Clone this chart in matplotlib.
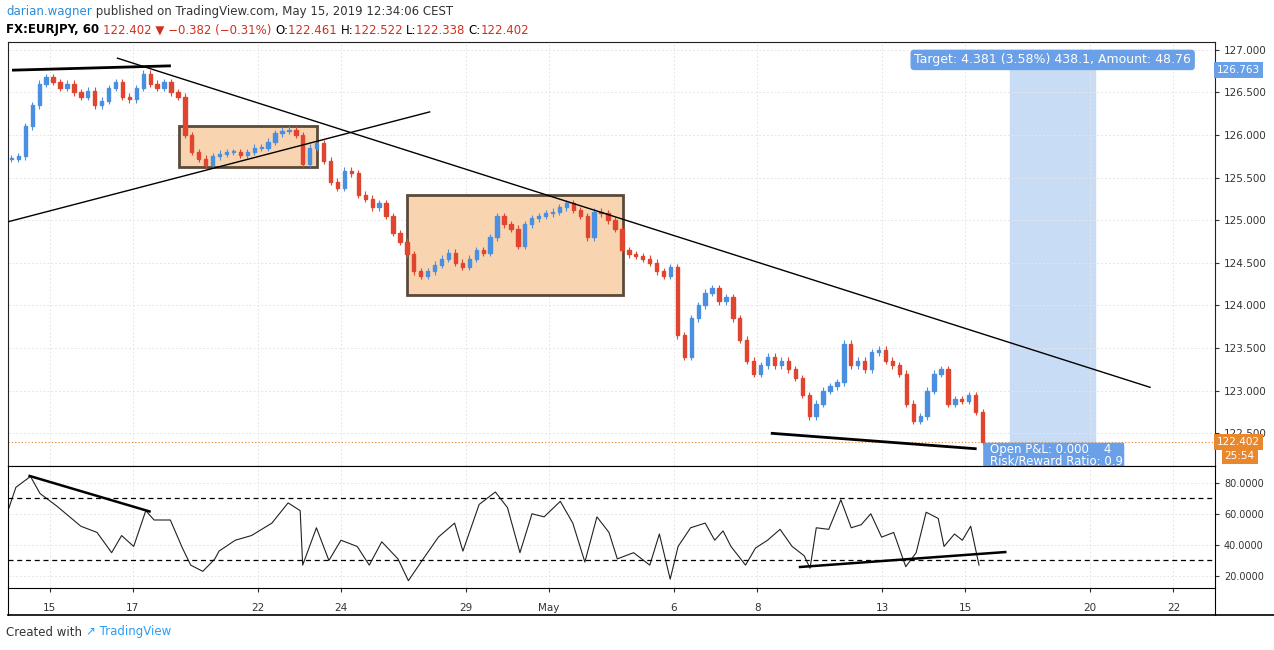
import matplotlib
matplotlib.use("Agg")
import matplotlib.pyplot as plt
from matplotlib.patches import Rectangle, FancyBboxPatch

# ---- data (trading-day index: Apr 15 = 0) ----
day_index = list(range(-1, 23))
closes_4h = [
    [125.72, 125.75, 126.10, 126.35, 126.60, 126.68],
    [126.62, 126.55, 126.60, 126.50, 126.45, 126.52],
    [126.35, 126.40, 126.55, 126.62, 126.45, 126.42],
    [126.55, 126.72, 126.60, 126.55, 126.62, 126.50],
    [126.45, 126.00, 125.80, 125.72, 125.65, 125.75],
    [125.78, 125.80, 125.80, 125.77, 125.80, 125.85],
    [125.85, 125.92, 126.02, 126.05, 126.06, 126.00],
    [125.66, 125.85, 125.90, 125.70, 125.45, 125.38],
    [125.58, 125.55, 125.30, 125.25, 125.15, 125.20],
    [125.05, 124.85, 124.75, 124.60, 124.40, 124.35],
    [124.40, 124.48, 124.55, 124.62, 124.50, 124.45],
    [124.55, 124.65, 124.62, 124.80, 125.05, 124.95],
    [124.90, 124.70, 124.95, 125.02, 125.05, 125.08],
    [125.10, 125.15, 125.20, 125.12, 125.05, 124.80],
    [125.10, 125.08, 125.00, 124.90, 124.65, 124.60],
    [124.58, 124.55, 124.50, 124.40, 124.35, 124.45],
    [123.65, 123.40, 123.85, 124.00, 124.15, 124.20],
    [124.05, 124.10, 123.85, 123.60, 123.35, 123.20],
    [123.30, 123.40, 123.30, 123.35, 123.25, 123.15],
    [122.95, 122.70, 122.85, 123.00, 123.05, 123.10],
    [123.55, 123.30, 123.35, 123.25, 123.45, 123.48],
    [123.35, 123.30, 123.20, 122.85, 122.65, 122.70],
    [123.00, 123.20, 123.25, 122.85, 122.90, 122.88],
    [122.95, 122.75, 122.402],
]
rsi_day = [-1.0, -0.81, -0.46, -0.23, 0.17, 0.75, 1.14, 1.49, 1.73, 2.02, 2.31, 2.51, 2.90, 3.19, 3.39, 3.68,
           3.97, 4.07, 4.46, 4.85, 5.34, 5.73, 6.02, 6.08, 6.41, 6.71, 7.0, 7.39, 7.68, 7.98, 8.37, 8.62,
           8.95, 9.34, 9.73, 9.93, 10.32, 10.71, 11.0, 11.3, 11.59, 11.88, 12.27, 12.57, 12.86, 13.15, 13.44,
           13.64, 14.03, 14.42, 14.65, 14.91, 15.1, 15.4, 15.75, 15.98, 16.18, 16.37, 16.72, 16.96, 17.25,
           17.55, 17.84, 18.13, 18.27, 18.42, 18.72, 19.01, 19.26, 19.5, 19.73, 19.99, 20.28, 20.57, 20.82,
           21.06, 21.35, 21.49, 21.74, 21.93, 22.13, 22.33]
rsi_val = [62, 77, 84, 73, 65, 52, 48, 35, 46, 39, 62, 56, 56, 38, 27, 23,
           31, 36, 43, 46, 54, 67, 62, 27, 51, 30, 43, 39, 27, 42, 31, 17,
           30, 45, 54, 36, 66, 74, 64, 35, 60, 58, 68, 54, 29, 58, 48,
           31, 35, 27, 47, 18, 39, 51, 54, 43, 49, 39, 27, 38, 43,
           50, 39, 33, 25, 51, 50, 69, 51, 53, 60, 45, 48, 26, 35,
           61, 57, 39, 47, 43, 52, 27]
tick_days = [0, 2, 5, 7, 10, 12, 15, 17, 20, 22, 25, 27]
tick_labels = ["15", "17", "22", "24", "29", "May", "6", "8", "13", "15", "20", "22"]
price_ticks = [122.5, 123.0, 123.5, 124.0, 124.5, 125.0, 125.5, 126.0, 126.5, 127.0]
rsi_ticks = [20, 40, 60, 80]
trend_lines = [((-0.87, 126.76), (2.88, 126.81), 2.0),
               ((1.63, 126.90), (26.44, 123.04), 1.0),
               ((-1.01, 124.98), (9.13, 126.27), 1.0),
               ((17.36, 122.50), (22.24, 122.32), 2.0)]
boxes = [(3.10, 6.42, 125.62, 126.10), (8.58, 13.77, 124.12, 125.29)]
rsi_lines = [((-0.48, 84.3), (2.4, 61.5)), ((18.03, 25.8), (22.96, 35.4))]
last_price = 122.402
target_price = 126.763

W, H = 1274, 650
fig = plt.figure(figsize=(12.74, 6.5), dpi=100)
def fx(px): return px / W
def fy(py): return 1 - py / H

UP, DN = "#4a8fe0", "#e0452f"
ax = fig.add_axes([fx(8), fy(466), fx(1215 - 8), (466 - 42) / H])
ax.set_xlim(-1.0, 28.0)
ax.set_ylim(122.117, 127.09)

prev = closes_4h[0][0]
for d, cl in zip(day_index, closes_4h):
    for k, c in enumerate(cl):
        t = d + k / 6 + 1 / 12
        o = prev
        col = UP if c >= o else DN
        ax.vlines(t, min(o, c) - 0.04, max(o, c) + 0.04, color=col, lw=0.8, zorder=3)
        ax.add_patch(Rectangle((t - 0.04, min(o, c)), 0.08, max(abs(c - o), 0.008), color=col, zorder=3))
        prev = c

for (x0, x1, y0, y1) in boxes:
    ax.add_patch(Rectangle((x0, y0), x1 - x0, y1 - y0, facecolor="#f8d4b0", edgecolor="#5a4a3a", lw=2, zorder=2))
for (a, b, lw) in trend_lines:
    ax.plot([a[0], b[0]], [a[1], b[1]], color="black", lw=lw, zorder=4)

ax.add_patch(Rectangle((23.08, 122.117), 2.04, 126.763 - 122.117 + 0.2, color="#c9dcf5", zorder=1))
ax.axhline(last_price, color="#e8872c", lw=0.8, ls=(0, (1, 2)), zorder=2)
ax.text(24.1, 126.88, "Target: 4.381 (3.58%) 438.1, Amount: 48.76", color="white", fontsize=9,
        ha="center", va="center", bbox=dict(boxstyle="round,pad=0.3", fc="#6aa0e8", ec="none"), zorder=6)
ax.add_patch(FancyBboxPatch((22.45, 122.13), 3.35, 0.24, boxstyle="round,pad=0.02", fc="#6aa0e8", ec="none", zorder=5))
ax.text(22.6, 122.31, "Open P&L: 0.000    4   11  5 2 2", color="white", fontsize=8.5, va="center", zorder=6)
ax.text(22.6, 122.18, "Risk/Reward Ratio: 0.9", color="white", fontsize=8.5, va="center", zorder=6)

ax.set_yticks(price_ticks)
ax.set_yticklabels([f"{p:.3f}" for p in price_ticks])
ax.yaxis.tick_right()
ax.tick_params(axis="y", labelsize=7.5, length=3, colors="#333333")
ax.set_xticks(tick_days)
ax.tick_params(axis="x", length=0, labelbottom=False)
ax.grid(True, color="#e6e6e6", ls=(0, (2, 2)), lw=0.7)
for s in ax.spines.values():
    s.set_color("#222222")
ax.text(1.0015, (last_price - 122.117) / (127.09 - 122.117), "122.402", transform=ax.transAxes,
        fontsize=7.5, color="white", va="center", bbox=dict(fc="#e8872c", ec="none", pad=2), zorder=7)
ax.text(1.008, (122.23 - 122.117) / (127.09 - 122.117), "25:54", transform=ax.transAxes,
        fontsize=7.5, color="white", va="center", bbox=dict(fc="#e8872c", ec="none", pad=2))
ax.text(1.0015, (target_price - 122.117) / (127.09 - 122.117), "126.763", transform=ax.transAxes,
        fontsize=7.5, color="white", va="center", bbox=dict(fc="#6aa0e8", ec="none", pad=2))

ax2 = fig.add_axes([fx(8), fy(588), fx(1215 - 8), (588 - 466) / H])
ax2.set_xlim(-1.0, 28.0)
ax2.set_ylim(12.3, 90.7)
ax2.plot(rsi_day, rsi_val, color="#222222", lw=0.8)
ax2.axhline(70, color="black", ls=(0, (4, 3)), lw=0.9)
ax2.axhline(30, color="black", ls=(0, (4, 3)), lw=0.9)
for a, b in rsi_lines:
    ax2.plot([a[0], b[0]], [a[1], b[1]], color="black", lw=1.8)
ax2.set_yticks(rsi_ticks)
ax2.set_yticklabels([f"{v:.4f}" for v in rsi_ticks])
ax2.yaxis.tick_right()
ax2.tick_params(axis="y", labelsize=7, length=3, colors="#333333")
ax2.set_xticks(tick_days)
ax2.set_xticklabels(tick_labels)
ax2.tick_params(axis="x", labelsize=7.5, length=3, pad=8, colors="#333333")
ax2.grid(True, color="#e6e6e6", ls=(0, (2, 2)), lw=0.7)

fig.add_artist(plt.Line2D([fx(8), fx(1274)], [fy(615), fy(615)], color="black", lw=1.2))
fig.add_artist(plt.Line2D([fx(1215), fx(1215)], [fy(615), fy(588)], color="black", lw=0.8))
fig.add_artist(plt.Line2D([fx(8), fx(8)], [fy(615), fy(588)], color="black", lw=0.8))

def chain(x, y, parts, fs=8.5):
    prev_t = None
    for txt, col, wt in parts:
        if prev_t is None:
            prev_t = fig.text(fx(x), fy(y), txt, color=col, fontsize=fs, va="center", weight=wt)
        else:
            prev_t = fig.text(0, 0, txt, color=col, fontsize=fs, va="center", weight=wt,
                              transform=matplotlib.transforms.offset_copy(
                                  fig.transFigure, fig=fig, x=0, y=0))
            prev_t = plt.annotate(txt, xy=(1, 0.5), xycoords=prev_chain[-1], xytext=(0, 0),
                                  textcoords="offset points", va="center", color=col, fontsize=fs, weight=wt) if False else prev_t
        prev_chain.append(prev_t)

# header rows using annotate chaining
def header(x, y, parts, fs=8.5):
    t = fig.text(fx(x), fy(y), parts[0][0], color=parts[0][1], fontsize=fs, va="center", weight=parts[0][2])
    for txt, col, wt in parts[1:]:
        t = fig.text(0, 0, "", fontsize=fs)  # placeholder removed below
        t.remove()
        t = last.annotate(txt, xy=(1, 0.5), xycoords=last_ref[0], xytext=(0, 0), textcoords="offset points",
                          va="center", color=col, fontsize=fs, weight=wt) if False else None
    return

def header2(x, y, parts, fs=8.5):
    ref = fig.text(fx(x), fy(y), parts[0][0], color=parts[0][1], fontsize=fs, va="center", weight=parts[0][2])
    for txt, col, wt in parts[1:]:
        ref = fig.add_artist(matplotlib.text.Annotation(txt, xy=(1, 0.5), xycoords=ref, xytext=(0, 0),
                              textcoords="offset points", va="center", ha="left", color=col,
                              fontsize=fs, weight=wt))

header2(6, 12, [("darian.wagner", "#2a8bd6", "normal"),
                (" published on TradingView.com, May 15, 2019 12:34:06 CEST", "#333333", "normal")])
header2(6, 30, [("FX:EURJPY, 60 ", "black", "bold"),
                ("122.402 ▼ −0.382 (−0.31%) ", "#d0301e", "normal"),
                ("O:", "black", "normal"), ("122.461 ", "#d0301e", "normal"),
                ("H:", "black", "normal"), ("122.522 ", "#d0301e", "normal"),
                ("L:", "black", "normal"), ("122.338 ", "#d0301e", "normal"),
                ("C:", "black", "normal"), ("122.402", "#d0301e", "normal")])
header2(6, 632, [("Created with ", "#333333", "normal"), ("\u2197 TradingView", "#2a9df4", "normal")])

fig.savefig("out.png", dpi=100)
